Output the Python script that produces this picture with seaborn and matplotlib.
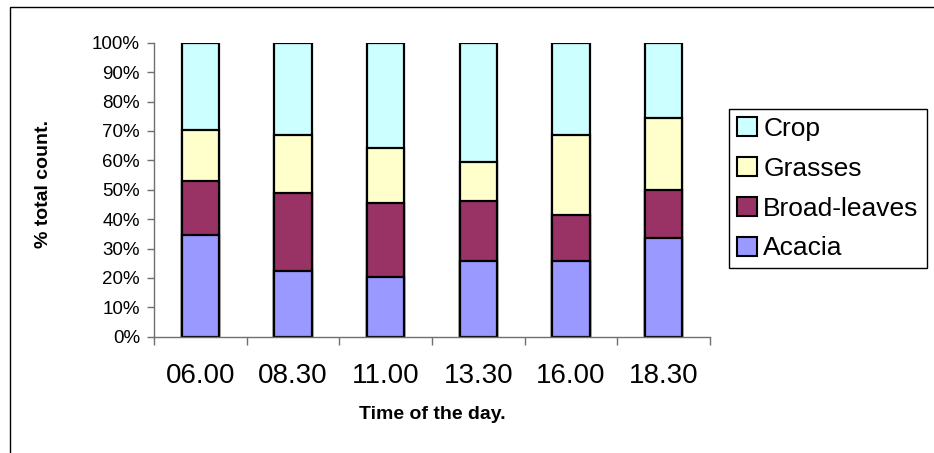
import numpy as np
import pandas as pd
import matplotlib
matplotlib.use("Agg")
import matplotlib.pyplot as plt
from matplotlib.ticker import FixedLocator, PercentFormatter
import seaborn as sns

# du lieu doc tu hinh (% theo tung thoi diem)
times = ["06.00", "08.30", "11.00", "13.30", "16.00", "18.30"]
acacia = [34.6, 22.4, 20.2, 25.9, 25.6, 33.7]
broad_leaves = [18.5, 26.4, 25.2, 20.4, 15.9, 16.2]
grasses = [17.3, 19.9, 18.8, 13.0, 27.1, 24.4]
crop = [29.6, 31.3, 35.8, 40.7, 31.4, 25.7]

layers = ["Acacia", "Broad-leaves", "Grasses", "Crop"]
colors = {"Acacia": "#9999FF", "Broad-leaves": "#993366",
          "Grasses": "#FFFFCC", "Crop": "#CCFFFF"}

df = pd.DataFrame({"time": times, "Acacia": acacia, "Broad-leaves": broad_leaves,
                   "Grasses": grasses, "Crop": crop})
cum = df[layers].cumsum(axis=1)

sns.set_style("white")
plt.rcParams["font.family"] = ["Liberation Sans", "DejaVu Sans"]
plt.rcParams["text.color"] = "black"
plt.rcParams["axes.labelcolor"] = "black"
plt.rcParams["xtick.color"] = "black"
plt.rcParams["ytick.color"] = "black"

fig = plt.figure(figsize=(9.34, 4.53), dpi=100)
ax = fig.add_axes([154 / 934, 1 - 336.7 / 453, 556 / 934, 294 / 453])

# ve tu tren xuong duoi de tao cot chong
for name in layers[::-1]:
    sns.barplot(x=df["time"], y=cum[name], color=colors[name], saturation=1,
                edgecolor="black", linewidth=1.6, width=0.4, errorbar=None,
                label=name, ax=ax)

ax.set_ylim(0, 100)
ax.set_xlim(-0.5, len(times) - 0.5)
ax.set_yticks(np.arange(0, 101, 10))
ax.yaxis.set_major_formatter(PercentFormatter(decimals=0))
ax.tick_params(axis="y", direction="out", length=5, width=1, color="#707070",
               labelcolor="black", pad=5, labelsize=13.5, left=True)
ax.tick_params(axis="x", which="major", length=0, pad=19, labelsize=20,
               labelcolor="black")
ax.xaxis.set_minor_locator(FixedLocator(np.arange(-0.5, len(times), 1)))
ax.tick_params(axis="x", which="minor", direction="out", length=6, width=1,
               color="#707070", bottom=True)

for s in ["top", "right"]:
    ax.spines[s].set_visible(False)
for s in ["left", "bottom"]:
    ax.spines[s].set_color("#707070")
    ax.spines[s].set_linewidth(1)

ax.set_xlabel("Time of the day.", fontsize=14, fontweight="bold", color="black")
ax.set_ylabel("% total count.", fontsize=14, fontweight="bold", color="black")
ax.xaxis.set_label_coords(0.5, -0.237)
ax.yaxis.set_label_coords(-0.183, 0.518)

leg = ax.legend(loc="upper left", bbox_to_anchor=(729 / 934, 1 - 109 / 453),
                bbox_transform=fig.transFigure, fontsize=19, frameon=True,
                fancybox=False, framealpha=1, edgecolor="black", borderpad=0.3,
                borderaxespad=0, labelspacing=0.6, handlelength=0.75,
                handleheight=0.72, handletextpad=0.25)
leg.get_frame().set_linewidth(1)
for h in leg.legend_handles:
    h.set_edgecolor("black")
    h.set_linewidth(1.5)
for t in leg.get_texts():
    t.set_color("black")

# khung vien cua hinh
fig.add_artist(plt.Rectangle((10 / 934, -0.1), 1.2, 1.1 - 7 / 453,
                             transform=fig.transFigure, fill=False,
                             edgecolor="black", linewidth=1))

fig.savefig("out.png", dpi=100)
